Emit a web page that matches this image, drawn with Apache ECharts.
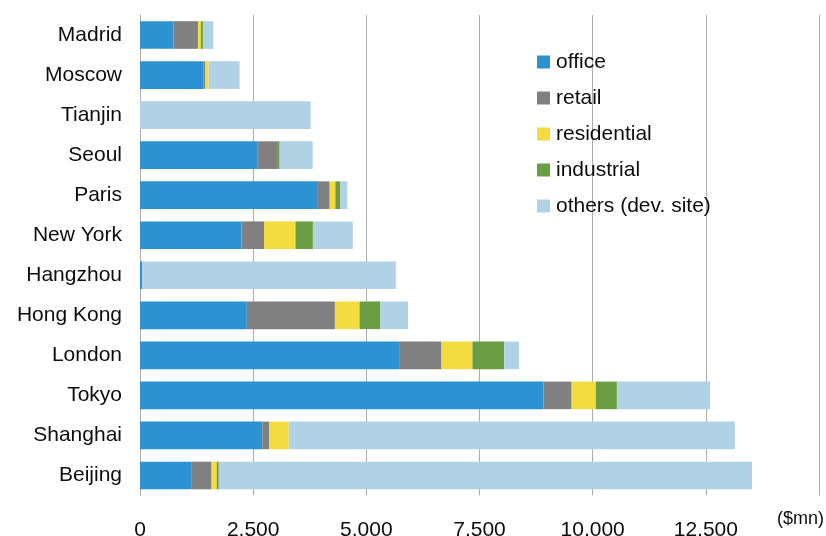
<!DOCTYPE html>
<html>
<head>
<meta charset="utf-8">
<style>
  html, body { margin: 0; padding: 0; background: #ffffff; }
  #chart { width: 826px; height: 536px; }
</style>
<script src="https://cdn.jsdelivr.net/npm/echarts@6/dist/echarts.min.js"></script>
</head>
<body>
<div id="chart"></div>
<script>
// Cities, listed top to bottom
const cities = ['Madrid', 'Moscow', 'Tianjin', 'Seoul', 'Paris', 'New York',
  'Hangzhou', 'Hong Kong', 'London', 'Tokyo', 'Shanghai', 'Beijing'];

// Investment volume by property type ($mn)
const office      = [740, 1400, 0, 2590, 3930, 2240, 50, 2360, 5740, 8915, 2700, 1130];
const retail      = [540, 40, 0, 455, 260, 500, 0, 1945, 920, 620, 150, 450];
const residential = [65, 75, 0, 0, 125, 695, 0, 545, 685, 535, 435, 115];
const industrial  = [45, 0, 0, 40, 110, 385, 0, 460, 700, 465, 0, 45];
const others      = [230, 685, 3770, 730, 155, 880, 5600, 610, 330, 2060, 9855, 11780];

const seriesNames = ['office', 'retail', 'residential', 'industrial', 'others (dev. site)'];
const seriesData = [office, retail, residential, industrial, others];
const seriesColors = ['#2c92d2', '#808080', '#f2dc3f', '#6a9d44', '#b0d2e4'];

const FONT = '"Liberation Sans", Arial, sans-serif';

const chart = echarts.init(document.getElementById('chart'), null, { renderer: 'canvas' });

chart.setOption({
  backgroundColor: '#ffffff',
  animation: false,
  textStyle: { fontFamily: FONT },
  grid: { left: 140, right: 7, top: 15, bottom: 40.5, containLabel: false, outerBoundsMode: 'none' },
  legend: {
    orient: 'vertical',
    left: 537,
    top: 51,
    padding: 0,
    itemWidth: 13,
    itemHeight: 13,
    itemGap: 14,
    icon: 'rect',
    data: seriesNames,
    textStyle: { fontFamily: FONT, fontSize: 21, color: '#0d0d0d', lineHeight: 22, padding: [0, 0, 0, 1] }
  },
  xAxis: {
    type: 'value',
    min: 0,
    max: 15000,
    interval: 2500,
    axisLine: { show: false },
    axisTick: { show: false },
    splitLine: { show: true, lineStyle: { color: '#acacac', width: 1 } },
    axisLabel: {
      margin: 24,
      fontFamily: FONT,
      fontSize: 21,
      color: '#0d0d0d',
      formatter: function (v) {
        if (v >= 15000) return '';
        return v.toLocaleString('en-US');
      }
    }
  },
  yAxis: {
    type: 'category',
    inverse: true,
    data: cities,
    axisLine: { show: true, lineStyle: { color: '#acacac', width: 1 } },
    axisTick: { show: false },
    axisLabel: { margin: 18, fontFamily: FONT, fontSize: 21, color: '#0d0d0d' }
  },
  series: seriesNames.map(function (name, i) {
    return {
      name: name,
      type: 'bar',
      stack: 'total',
      barCategoryGap: '31%',
      itemStyle: { color: seriesColors[i] },
      emphasis: { disabled: true },
      data: seriesData[i]
    };
  }),
  graphic: [{
    type: 'text',
    right: 2,
    top: 510,
    style: { text: '($mn)', fontFamily: FONT, fontSize: 18, fill: '#0d0d0d' }
  }]
});
</script>
</body>
</html>
